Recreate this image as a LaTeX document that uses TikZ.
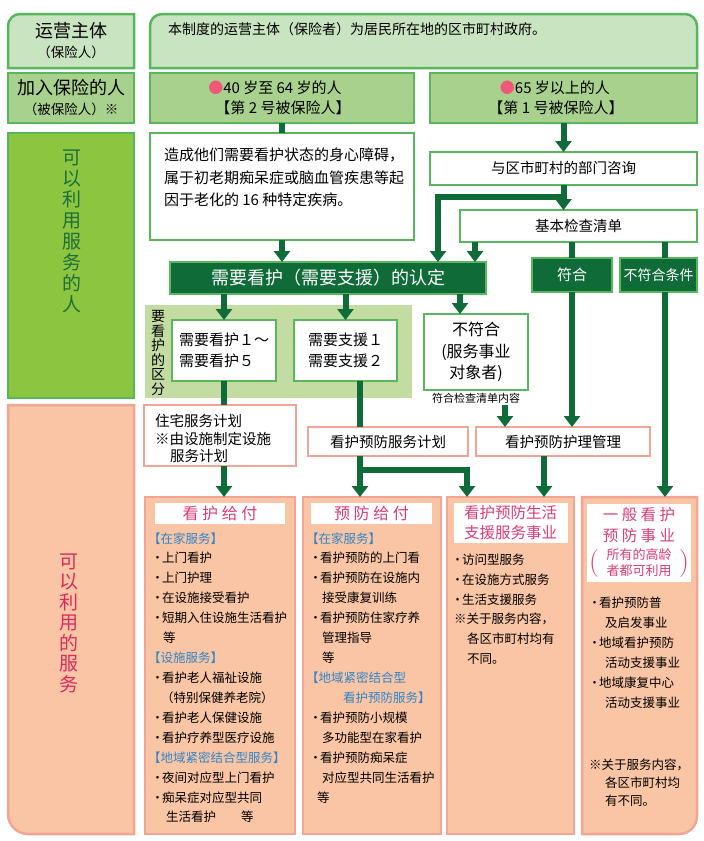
\documentclass[tikz,border=0pt]{standalone}
\usepackage{fontspec}
\newfontfamily\cjk{Noto Sans CJK SC}
\usetikzlibrary{arrows.meta,calc}
\definecolor{dkg}{HTML}{0F6B38}
\definecolor{gbd}{HTML}{58B65C}
\definecolor{rowa}{HTML}{C9E4C1}
\definecolor{rowb}{HTML}{A9D18E}
\definecolor{lgr}{HTML}{8CC53F}
\definecolor{pnl}{HTML}{C3DCA2}
\definecolor{sal}{HTML}{F9C5A4}
\definecolor{sbd}{HTML}{F2A595}
\definecolor{pk}{HTML}{DC3C78}
\definecolor{crim}{HTML}{E0285E}
\definecolor{blu}{HTML}{2F86C9}
\definecolor{dotc}{HTML}{F0587A}
\definecolor{gtx}{HTML}{1E6E3A}
\newcommand\fz[1]{\cjk\fontsize{#1}{#1}\selectfont}
\newcommand\fzl[2]{\cjk\fontsize{#1}{#2}\selectfont}
\newcommand\bul{\makebox[9pt][c]{・}}
\begin{document}
\begin{tikzpicture}[x=1pt,y=-1pt,
 every node/.style={inner sep=0pt,outer sep=0pt},
 gbox/.style={draw=gbd,line width=2.5pt},
 wbox/.style={gbox,fill=white},
 dbox/.style={gbox,fill=dkg,text=white},
 pbox/.style={draw=sbd,line width=2.5pt,fill=white},
 sbox/.style={draw=sbd,line width=2.5pt,fill=sal},
 band/.style={fill=white},
 arr/.style={draw=dkg,line width=6pt,-{Triangle[width=16pt,length=11pt]}},
 bar/.style={draw=dkg,line width=6pt},
 li/.style={anchor=west,font=\fz{12.5}},
 hd/.style={anchor=west,font=\fz{12.5},text=blu},
]
\useasboundingbox (0,0) rectangle (704,841);
\fill[white] (0,0) rectangle (704,841);

% ---- row 1
\path[gbox,fill=rowa] (8,68) -- (8,26) .. controls (8,19.4) and (13.4,14) .. (20,14) -- (134,14) -- (134,68) -- cycle;
\node[font=\fz{18}] (opA) at (71,31) {运营主体};
\node[font=\fz{13.5}] (opB) at (71,52) {（保险人）};
\path[gbox,fill=rowa] (150,68) -- (150,26) .. controls (150,19.4) and (155.4,14) .. (162,14) -- (685,14) .. controls (691.6,14) and (697,19.4) .. (697,26) -- (697,68) -- cycle;
\node[anchor=west,font=\fz{14}] (opText) at (168,29) {本制度的运营主体（保险者）为居民所在地的区市町村政府。};

% ---- row 2
\node[gbox,fill=rowb,minimum width=126pt,minimum height=50pt] (insL) at (71,98) {};
\node[font=\fz{18}] (insA) at (71,88) {加入保险的人};
\node[font=\fz{13.5}] (insB) at (71,109) {（被保险人）※};
\node[gbox,fill=rowb,minimum width=264pt,minimum height=50pt] (age40) at (282,98) {};
\node[font=\fz{15}] (age40a) at (275,88) {\textcolor{dotc}{●}40 岁至 64 岁的人};
\node[font=\fz{15}] (age40b) at (283,108) {【第 2 号被保险人】};
\node[gbox,fill=rowb,minimum width=267pt,minimum height=50pt] (age65) at (563.5,98) {};
\node[font=\fz{15}] (age65a) at (555,88) {\textcolor{dotc}{●}65 岁以上的人};
\node[font=\fz{15}] (age65b) at (556,108) {【第 1 号被保险人】};

% ---- users column
\node[gbox,fill=lgr,minimum width=126pt,minimum height=265pt] (usersL) at (71,265.5) {};
\node[align=center,font=\fzl{19}{21},text=gtx] (usersT) at (72,231) {可\\以\\利\\用\\服\\务\\的\\人};

\node[wbox,minimum width=264pt,minimum height=107pt] (cause) at (282,186.5) {};
\node[anchor=west,font=\fz{15}] (causeA) at (164,155) {造成他们需要看护状态的身心障碍，};
\node[anchor=west,font=\fz{15}] (causeB) at (164,178) {属于初老期痴呆症或脑血管疾患等起};
\node[anchor=west,font=\fz{15}] (causeC) at (164,200) {因于老化的 16 种特定疾病。};

\node[wbox,minimum width=267pt,minimum height=33pt,font=\fz{14.5}] (consult) at (563.5,168.5) {与区市町村的部门咨询};
\node[wbox,minimum width=237pt,minimum height=32pt,font=\fz{14.5}] (checklist) at (578.5,226) {基本检查清单};
\node[dbox,minimum width=316pt,minimum height=32pt,font=\fz{18}] (certify) at (328,278) {需要看护（需要支援）的认定};
\node[dbox,minimum width=80pt,minimum height=34pt,font=\fz{15}] (fuhe) at (572,275) {符合};
\node[dbox,minimum width=77pt,minimum height=34pt,font=\fz{14}] (bufuhe) at (658.5,275) {不符合条件};

\node[fill=pnl,minimum width=267pt,minimum height=93pt] (panel) at (278.5,351.5) {};
\node[align=center,font=\fzl{14}{14.6}] (panelT) at (158,353) {要\\看\\护\\的\\区\\分};
\node[wbox,minimum width=104pt,minimum height=61pt,align=left,font=\fzl{15}{21}] (care15) at (224,350.5) {需要看护１～\\需要看护５};
\node[wbox,minimum width=103pt,minimum height=61pt,align=center,font=\fzl{15}{21}] (sup12) at (345.5,350.5) {需要支援１\\需要支援２};
\node[wbox,minimum width=104pt,minimum height=76pt,align=center,font=\fzl{16}{21.5}] (notcov) at (476,352) {不符合\\(服务事业\\对象者)};
\node[font=\fz{11}] (checkT) at (476,398) {符合检查清单内容};

% ---- services column
\path[sbox] (8,405) -- (134,405) -- (134,834) -- (28,834) .. controls (17,834) and (8,825) .. (8,814) -- cycle;
\node[align=center,font=\fzl{19}{20.5},text=crim] (servT) at (69,623) {可\\以\\利\\用\\的\\服\\务};

\node[pbox,minimum width=152pt,minimum height=61pt] (housing) at (220,435.5) {};
\node[anchor=west,font=\fz{14.5}] (hA) at (155,421) {住宅服务计划};
\node[anchor=west,font=\fz{14.5}] (hB) at (155,438.5) {※由设施制定设施};
\node[anchor=west,font=\fz{14.5}] (hC) at (170,456) {服务计划};
\node[pbox,minimum width=160pt,minimum height=29pt,font=\fz{14.5}] (prevplan) at (388,441.5) {看护预防服务计划};
\node[pbox,minimum width=174pt,minimum height=29pt,font=\fz{14.5}] (prevmgmt) at (563,441.5) {看护预防护理管理};

% ---- bottom boxes
\node[sbox,minimum width=150pt,minimum height=337pt] (carebox) at (220,665.5) {};
\node[sbox,minimum width=138pt,minimum height=337pt] (prevbox) at (372,665.5) {};
\node[sbox,minimum width=127pt,minimum height=337pt] (lifebox) at (510.5,665.5) {};
\path[sbox] (582,497) -- (697,497) -- (697,816) .. controls (697,826) and (689,834) .. (679,834) -- (582,834) -- cycle;
\coordinate (genTop) at (665,497);

\node[band,minimum width=130pt,minimum height=21pt,font=\fz{16},text=pk] (careTitle) at (220,513.5) {看 护 给 付};
\node[band,minimum width=121pt,minimum height=21pt,font=\fz{16},text=pk] (prevTitle) at (371.5,513.5) {预 防 给 付};
\node[band,minimum width=114pt,minimum height=40pt,font=\fzl{15.5}{20},text=pk,align=center] (lifeTitle) at (510.5,523) {看护预防生活\\支援服务事业};
\node[band,minimum width=104pt,minimum height=78pt] (genTitle) at (639,543) {};
\node[font=\fz{15.5},text=pk] (genT1) at (639,515) {一 般 看 护};
\node[font=\fz{15.5},text=pk] (genT2) at (639,536) {预 防 事 业};
\node[font=\fz{13},text=pk] (genT3) at (639,555) {所有的高龄};
\node[font=\fz{13},text=pk] (genT4) at (639,571) {者都可利用};
\node[font={\rmfamily\fontsize{28}{28}\selectfont},text=pk] (genP1) at (594,564) {(};
\node[font={\rmfamily\fontsize{28}{28}\selectfont},text=pk] (genP2) at (684,564) {)};

\node[hd] (c1) at (148,539) {【在家服务】};
\node[li] (c2) at (153,558) {\bul 上门看护};
\node[li] (c3) at (153,578) {\bul 上门护理};
\node[li] (c4) at (153,598) {\bul 在设施接受看护};
\node[li] (c5) at (153,618) {\bul 短期入住设施生活看护};
\node[li] (c6) at (163,638) {等};
\node[hd] (c7) at (148,658) {【设施服务】};
\node[li] (c8) at (153,678) {\bul 看护老人福祉设施};
\node[li] (c9) at (161,698) {（特别保健养老院）};
\node[li] (c10) at (153,718) {\bul 看护老人保健设施};
\node[li] (c11) at (153,738) {\bul 看护疗养型医疗设施};
\node[hd] (c12) at (148,758) {【地域紧密结合型服务】};
\node[li] (c13) at (153,778) {\bul 夜间对应型上门看护};
\node[li] (c14) at (153,798) {\bul 痴呆症对应型共同};
\node[li] (c15) at (166,817) {生活看护　　等};

\node[hd] (p1) at (306,539) {【在家服务】};
\node[li] (p2) at (311,558) {\bul 看护预防的上门看};
\node[li] (p3) at (311,578) {\bul 看护预防在设施内};
\node[li] (p4) at (322,598) {接受康复训练};
\node[li] (p5) at (311,618) {\bul 看护预防住家疗养};
\node[li] (p6) at (322,638) {管理指导};
\node[li] (p7) at (322,658) {等};
\node[hd] (p8) at (306,678) {【地域紧密结合型};
\node[hd] (p9) at (343,698) {看护预防服务】};
\node[li] (p10) at (311,718) {\bul 看护预防小规模};
\node[li] (p11) at (322,738) {多功能型在家看护};
\node[li] (p12) at (311,758) {\bul 看护预防痴呆症};
\node[li] (p13) at (322,778) {对应型共同生活看护};
\node[li] (p14) at (317,798) {等};

\node[li] (l1) at (453,560) {\bul 访问型服务};
\node[li] (l2) at (453,580) {\bul 在设施方式服务};
\node[li] (l3) at (453,600) {\bul 生活支援服务};
\node[li] (l4) at (454,619) {※关于服务内容，};
\node[li] (l5) at (467,639) {各区市町村均有};
\node[li] (l6) at (467,659) {不同。};

\node[li] (g1) at (590,603) {\bul 看护预防普};
\node[li] (g2) at (605,623) {及启发事业};
\node[li] (g3) at (590,643) {\bul 地域看护预防};
\node[li] (g4) at (605,663) {活动支援事业};
\node[li] (g5) at (590,683) {\bul 地域康复中心};
\node[li] (g6) at (605,703) {活动支援事业};
\node[li] (g7) at (589,765) {※关于服务内容，};
\node[li] (g8) at (605,783) {各区市町村均};
\node[li] (g9) at (605,801) {有不同。};

% ---- connectors
\draw[bar] (age40.south) -- (cause.north);
\draw[arr] (age65.south) -- (consult.north);
\draw[arr] (consult.south) -- (consult.south |- checklist.north);
\draw[arr] ($(consult.south)+(0,12)$) -| ($(certify.north)+(110,0)$);
\draw[arr] ($(checklist.south)+(-103.5,0)$) -- ($(checklist.south |- certify.north)+(-103.5,0)$);
\draw[arr] (cause.south) -- (cause.south |- certify.north);
\draw[bar] (fuhe.north |- checklist.south) -- (fuhe.north);
\draw[bar] (genTop |- checklist.south) -- (genTop |- bufuhe.north);
\draw[arr] (care15.north |- certify.south) -- (care15.north);
\draw[arr] (sup12.north |- certify.south) -- (sup12.north);
\draw[arr] ($(notcov.north |- certify.south)+(-16,0)$) -- ($(notcov.north)+(-16,0)$);
\draw[arr] (fuhe.south) -- (fuhe.south |- prevmgmt.north);
\draw[arr] (genTop |- bufuhe.south) -- (genTop);
\draw[bar] (care15.south) -- (care15.south |- housing.north);
\draw[arr] (care15.south |- housing.south) -- (care15.south |- carebox.north);
\draw[bar] ($(sup12.south)+(14,0)$) -- ($(sup12.south |- prevplan.north)+(14,0)$);
\draw[arr] ($(prevplan.south)+(-28,0)$) -- ($(prevplan.south |- prevbox.north)+(-28,0)$);
\draw[arr] ($(prevplan.south)+(-28,14)$) -| ($(lifebox.north)+(-43.5,0)$);
\draw[arr] ($(checkT.south)+(29,2)$) -- ($(checkT.south |- prevmgmt.north)+(29,0)$);
\draw[arr] ($(prevmgmt.south)+(-19,0)$) -- ($(prevmgmt.south |- lifebox.north)+(-19,0)$);
\end{tikzpicture}
\end{document}
